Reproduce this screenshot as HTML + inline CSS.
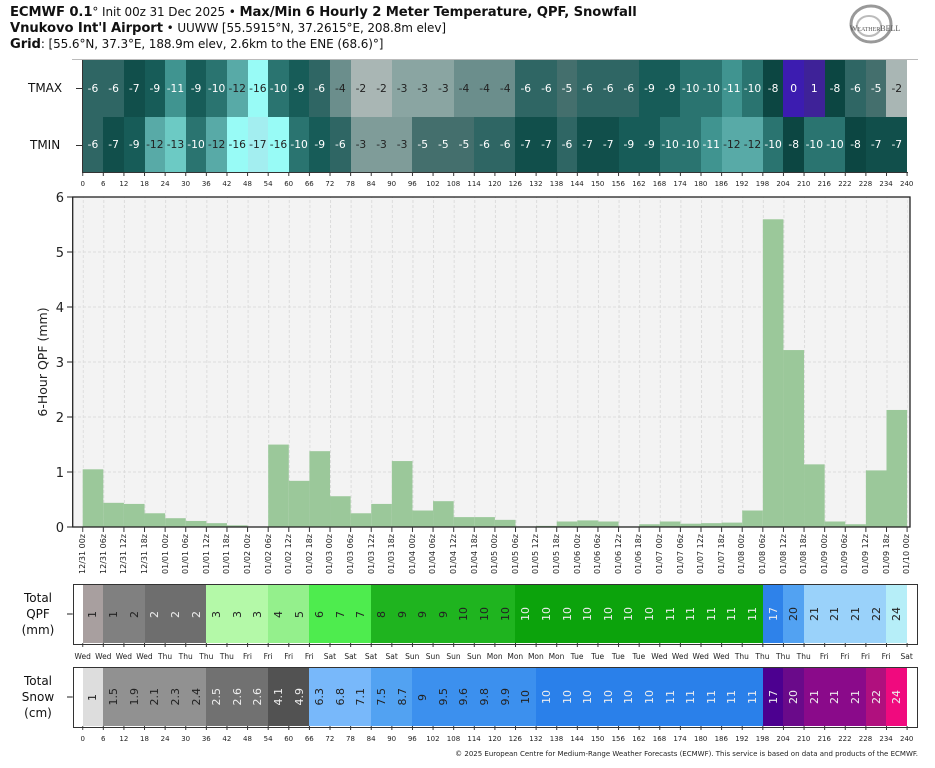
<!DOCTYPE html>
<html><head><meta charset="utf-8"><style>
*{margin:0;padding:0;box-sizing:border-box}
body{width:935px;height:768px;background:#fff;position:relative;overflow:hidden;font-family:"DejaVu Sans","Liberation Sans",sans-serif;color:#111}
.abs{position:absolute}
.hdr{left:10px;font-size:12px;white-space:nowrap;letter-spacing:-0.1px}
.hdr b{font-size:13.2px}
.row{position:absolute;left:82.7px;width:824.4px;display:grid;grid-template-columns:repeat(40,1fr)}
.row div{display:flex;align-items:center;justify-content:center;font-size:10.7px;color:#fff}
.m17{background:#a3eef0;color:#222!important}.m16{background:#98fbf6;color:#222!important}
.m13{background:#6ccac4;color:#222!important}.m12{background:#58aaa7;color:#222!important}
.m11{background:#409490}.m10{background:#2a7470}.m9{background:#175c58}.m8{background:#0c4642}
.m7{background:#114f4b}.m6{background:#2f6664}.m5{background:#446f6d}
.m4{background:#6b8e8c;color:#222!important}.m3{background:#8aa5a2;color:#222!important}.n3{background:#7f9c99;color:#222!important}
.m2{background:#a9b6b4;color:#222!important}.p0{background:#3c1cb0}.p1{background:#3e2298}
.tb div span{writing-mode:vertical-rl;transform:rotate(180deg);font-size:11px}
.d{color:#222!important}.l{color:#eee!important}
.ticks{position:absolute;left:72.4px;width:844.6px;display:grid;grid-template-columns:repeat(41,1fr);font-size:7px;text-align:center;color:#222}
.dates{position:absolute;left:72.4px;width:844.6px;top:534px;display:grid;grid-template-columns:repeat(41,1fr);font-size:8px;color:#222}
.dates div{display:flex;justify-content:center}
.dates span{writing-mode:vertical-rl;transform:rotate(180deg)}
.box{position:absolute;left:72.7px;width:845.3px;border:1.5px solid #333}
.lab{position:absolute;font-size:12px;text-align:center;line-height:16px;width:60px}
</style></head><body>
<div class="abs hdr" style="top:5px"><b>ECMWF 0.1</b>° Init 00z 31 Dec 2025 • <b>Max/Min 6 Hourly 2 Meter Temperature, QPF, Snowfall</b></div>
<div class="abs hdr" style="top:21px"><b>Vnukovo Int'l Airport</b> • UUWW [55.5915°N, 37.2615°E, 208.8m elev]</div>
<div class="abs hdr" style="top:37px"><b>Grid</b>: [55.6°N, 37.3°E, 188.9m elev, 2.6km to the ENE (68.6)°]</div>
<svg class="abs" style="left:835px;top:4px" width="80" height="44"><ellipse cx="36" cy="20" rx="20" ry="18" fill="none" stroke="#999" stroke-width="3"/><ellipse cx="34" cy="22" rx="12" ry="10" fill="none" stroke="#bbb" stroke-width="2"/><text x="40" y="27" font-size="8" text-anchor="middle" fill="#555" font-family="Liberation Serif,serif">W<tspan font-size="6">EATHER</tspan>BELL</text></svg>

<div class="abs" style="left:72px;top:59px;width:846px;height:1px;background:#bbb"></div>
<div class="abs" style="left:28px;top:81px;font-size:12px">TMAX</div>
<div class="abs" style="left:30px;top:138px;font-size:12px">TMIN</div>
<div class="abs" style="left:76px;top:88px;width:6px;height:1px;background:#333"></div>
<div class="abs" style="left:76px;top:145px;width:6px;height:1px;background:#333"></div>
<div class="abs" style="left:81.7px;top:60px;width:1px;height:113px;background:#333"></div>
<div class="row" style="top:60px;height:56.7px">
<div class="m6">-6</div><div class="m6">-6</div><div class="m7">-7</div><div class="m9">-9</div><div class="m11">-11</div><div class="m9">-9</div><div class="m10">-10</div><div class="m12">-12</div><div class="m16">-16</div><div class="m10">-10</div><div class="m9">-9</div><div class="m6">-6</div><div class="m4">-4</div><div class="m2">-2</div><div class="m2">-2</div><div class="m3">-3</div><div class="m3">-3</div><div class="m3">-3</div><div class="m4">-4</div><div class="m4">-4</div><div class="m4">-4</div><div class="m6">-6</div><div class="m6">-6</div><div class="m5">-5</div><div class="m6">-6</div><div class="m6">-6</div><div class="m6">-6</div><div class="m9">-9</div><div class="m9">-9</div><div class="m10">-10</div><div class="m10">-10</div><div class="m11">-11</div><div class="m10">-10</div><div class="m8">-8</div><div class="p0">0</div><div class="p1">1</div><div class="m8">-8</div><div class="m6">-6</div><div class="m5">-5</div><div class="m2">-2</div>
</div>
<div class="row" style="top:116.7px;height:55.6px">
<div class="m6">-6</div><div class="m7">-7</div><div class="m9">-9</div><div class="m12">-12</div><div class="m13">-13</div><div class="m10">-10</div><div class="m12">-12</div><div class="m16">-16</div><div class="m17">-17</div><div class="m16">-16</div><div class="m10">-10</div><div class="m9">-9</div><div class="m6">-6</div><div class="n3">-3</div><div class="n3">-3</div><div class="n3">-3</div><div class="m5">-5</div><div class="m5">-5</div><div class="m5">-5</div><div class="m6">-6</div><div class="m6">-6</div><div class="m7">-7</div><div class="m7">-7</div><div class="m6">-6</div><div class="m7">-7</div><div class="m7">-7</div><div class="m9">-9</div><div class="m9">-9</div><div class="m10">-10</div><div class="m10">-10</div><div class="m11">-11</div><div class="m12">-12</div><div class="m12">-12</div><div class="m10">-10</div><div class="m8">-8</div><div class="m10">-10</div><div class="m10">-10</div><div class="m8">-8</div><div class="m7">-7</div><div class="m7">-7</div>
</div>
<div class="abs" style="left:82px;top:172px;width:826px;height:1px;background:#333"></div>
<div class="ticks" style="top:180px"><div>0</div><div>6</div><div>12</div><div>18</div><div>24</div><div>30</div><div>36</div><div>42</div><div>48</div><div>54</div><div>60</div><div>66</div><div>72</div><div>78</div><div>84</div><div>90</div><div>96</div><div>102</div><div>108</div><div>114</div><div>120</div><div>126</div><div>132</div><div>138</div><div>144</div><div>150</div><div>156</div><div>162</div><div>168</div><div>174</div><div>180</div><div>186</div><div>192</div><div>198</div><div>204</div><div>210</div><div>216</div><div>222</div><div>228</div><div>234</div><div>240</div></div>

<svg class="abs" style="left:0;top:0" width="935" height="768">
<defs>
<pattern id="vg" patternUnits="userSpaceOnUse" x="82.7" y="0" width="20.61" height="5"><line x1="0.5" y1="0" x2="0.5" y2="3" stroke="#dcdcdc" stroke-width="1"/></pattern>
<pattern id="tk" patternUnits="userSpaceOnUse" x="82.2" y="0" width="20.61" height="10"><rect x="0" y="0" width="1" height="10" fill="#333"/></pattern>
</defs>
<rect x="72.7" y="197" width="837.3" height="330" fill="#f3f3f3"/>
<rect x="82.7" y="197" width="825" height="330" fill="url(#vg)"/>
<g stroke="#dcdcdc" stroke-dasharray="3,2"><line x1="73" x2="910" y1="252" y2="252"/><line x1="73" x2="910" y1="307" y2="307"/><line x1="73" x2="910" y1="362" y2="362"/><line x1="73" x2="910" y1="417" y2="417"/><line x1="73" x2="910" y1="472" y2="472"/></g>
<g transform="translate(82.7 527) scale(3.435 -54.95)" fill="#9bc89a">
<rect x="0" width="6" height="1.05"/><rect x="6" width="6" height="0.44"/><rect x="12" width="6" height="0.42"/><rect x="18" width="6" height="0.25"/><rect x="24" width="6" height="0.16"/><rect x="30" width="6" height="0.11"/><rect x="36" width="6" height="0.07"/><rect x="42" width="6" height="0.03"/><rect x="54" width="6" height="1.5"/><rect x="60" width="6" height="0.84"/><rect x="66" width="6" height="1.38"/><rect x="72" width="6" height="0.56"/><rect x="78" width="6" height="0.25"/><rect x="84" width="6" height="0.42"/><rect x="90" width="6" height="1.2"/><rect x="96" width="6" height="0.3"/><rect x="102" width="6" height="0.47"/><rect x="108" width="6" height="0.18"/><rect x="114" width="6" height="0.18"/><rect x="120" width="6" height="0.13"/><rect x="126" width="6" height="0.01"/><rect x="132" width="6" height="0.02"/><rect x="138" width="6" height="0.1"/><rect x="144" width="6" height="0.12"/><rect x="150" width="6" height="0.1"/><rect x="156" width="6" height="0.01"/><rect x="162" width="6" height="0.05"/><rect x="168" width="6" height="0.1"/><rect x="174" width="6" height="0.06"/><rect x="180" width="6" height="0.07"/><rect x="186" width="6" height="0.08"/><rect x="192" width="6" height="0.3"/><rect x="198" width="6" height="5.6"/><rect x="204" width="6" height="3.22"/><rect x="210" width="6" height="1.14"/><rect x="216" width="6" height="0.1"/><rect x="222" width="6" height="0.05"/><rect x="228" width="6" height="1.03"/><rect x="234" width="6" height="2.13"/>
</g>
<rect x="72.7" y="197" width="837.3" height="330" fill="none" stroke="#222" stroke-width="1.3"/>
<rect x="82.2" y="527" width="826" height="5" fill="url(#tk)"/>
<rect x="82.2" y="172" width="826" height="4" fill="url(#tk)"/>
<rect x="82.2" y="643" width="826" height="4" fill="url(#tk)"/>
<rect x="82.2" y="726" width="826" height="4" fill="url(#tk)"/>
<g stroke="#222"><line x1="67" x2="72.7" y1="197" y2="197"/><line x1="67" x2="72.7" y1="252" y2="252"/><line x1="67" x2="72.7" y1="307" y2="307"/><line x1="67" x2="72.7" y1="362" y2="362"/><line x1="67" x2="72.7" y1="417" y2="417"/><line x1="67" x2="72.7" y1="472" y2="472"/><line x1="67" x2="72.7" y1="527" y2="527"/><line x1="67" x2="72.7" y1="614" y2="614"/><line x1="67" x2="72.7" y1="697" y2="697"/></g>
<g font-size="13" text-anchor="end" fill="#222" font-family="DejaVu Sans,sans-serif"><text x="64" y="202">6</text><text x="64" y="257">5</text><text x="64" y="312">4</text><text x="64" y="367">3</text><text x="64" y="422">2</text><text x="64" y="477">1</text><text x="64" y="532">0</text></g>
<text transform="translate(47 362) rotate(-90)" font-size="12.5" text-anchor="middle" fill="#222" font-family="DejaVu Sans,sans-serif">6-Hour QPF (mm)</text>
</svg>

<div class="dates"><div><span>12/31 00z</span></div><div><span>12/31 06z</span></div><div><span>12/31 12z</span></div><div><span>12/31 18z</span></div><div><span>01/01 00z</span></div><div><span>01/01 06z</span></div><div><span>01/01 12z</span></div><div><span>01/01 18z</span></div><div><span>01/02 00z</span></div><div><span>01/02 06z</span></div><div><span>01/02 12z</span></div><div><span>01/02 18z</span></div><div><span>01/03 00z</span></div><div><span>01/03 06z</span></div><div><span>01/03 12z</span></div><div><span>01/03 18z</span></div><div><span>01/04 00z</span></div><div><span>01/04 06z</span></div><div><span>01/04 12z</span></div><div><span>01/04 18z</span></div><div><span>01/05 00z</span></div><div><span>01/05 06z</span></div><div><span>01/05 12z</span></div><div><span>01/05 18z</span></div><div><span>01/06 00z</span></div><div><span>01/06 06z</span></div><div><span>01/06 12z</span></div><div><span>01/06 18z</span></div><div><span>01/07 00z</span></div><div><span>01/07 06z</span></div><div><span>01/07 12z</span></div><div><span>01/07 18z</span></div><div><span>01/08 00z</span></div><div><span>01/08 06z</span></div><div><span>01/08 12z</span></div><div><span>01/08 18z</span></div><div><span>01/09 00z</span></div><div><span>01/09 06z</span></div><div><span>01/09 12z</span></div><div><span>01/09 18z</span></div><div><span>01/10 00z</span></div></div>

<div class="lab" style="left:8px;top:590px">Total<br>QPF<br>(mm)</div>
<div class="box" style="top:583.5px;height:61px"></div>
<div class="row tb" style="top:585px;height:58px">
<div style="background:#a89f9f" class="d"><span>1</span></div><div style="background:#808080" class="d"><span>1</span></div><div style="background:#808080" class="d"><span>2</span></div><div style="background:#6e6e6e" class="l"><span>2</span></div><div style="background:#6e6e6e" class="l"><span>2</span></div><div style="background:#6e6e6e" class="l"><span>2</span></div><div style="background:#b4f9a8" class="d"><span>3</span></div><div style="background:#b4f9a8" class="d"><span>3</span></div><div style="background:#b4f9a8" class="d"><span>3</span></div><div style="background:#94f08c" class="d"><span>4</span></div><div style="background:#94f08c" class="d"><span>5</span></div><div style="background:#4eec4e" class="d"><span>6</span></div><div style="background:#4eec4e" class="d"><span>7</span></div><div style="background:#4eec4e" class="d"><span>7</span></div><div style="background:#1fb41f" class="d"><span>8</span></div><div style="background:#1fb41f" class="d"><span>9</span></div><div style="background:#1fb41f" class="d"><span>9</span></div><div style="background:#1fb41f" class="d"><span>9</span></div><div style="background:#1fb41f" class="d"><span>10</span></div><div style="background:#1fb41f" class="d"><span>10</span></div><div style="background:#1fb41f" class="d"><span>10</span></div><div style="background:#0ca30c" class="l"><span>10</span></div><div style="background:#0ca30c" class="l"><span>10</span></div><div style="background:#0ca30c" class="l"><span>10</span></div><div style="background:#0ca30c" class="l"><span>10</span></div><div style="background:#0ca30c" class="l"><span>10</span></div><div style="background:#0ca30c" class="l"><span>10</span></div><div style="background:#0ca30c" class="l"><span>10</span></div><div style="background:#0ca30c" class="l"><span>11</span></div><div style="background:#0ca30c" class="l"><span>11</span></div><div style="background:#0ca30c" class="l"><span>11</span></div><div style="background:#0ca30c" class="l"><span>11</span></div><div style="background:#0ca30c" class="l"><span>11</span></div><div style="background:#2e82ea" class="l"><span>17</span></div><div style="background:#52a2f2" class="d"><span>20</span></div><div style="background:#9ad2fa" class="d"><span>21</span></div><div style="background:#9ad2fa" class="d"><span>21</span></div><div style="background:#9ad2fa" class="d"><span>21</span></div><div style="background:#9ad2fa" class="d"><span>22</span></div><div style="background:#b6eef8" class="d"><span>24</span></div>
</div>
<div class="ticks" style="top:652px;font-size:7.5px"><div>Wed</div><div>Wed</div><div>Wed</div><div>Wed</div><div>Thu</div><div>Thu</div><div>Thu</div><div>Thu</div><div>Fri</div><div>Fri</div><div>Fri</div><div>Fri</div><div>Sat</div><div>Sat</div><div>Sat</div><div>Sat</div><div>Sun</div><div>Sun</div><div>Sun</div><div>Sun</div><div>Mon</div><div>Mon</div><div>Mon</div><div>Mon</div><div>Tue</div><div>Tue</div><div>Tue</div><div>Tue</div><div>Wed</div><div>Wed</div><div>Wed</div><div>Wed</div><div>Thu</div><div>Thu</div><div>Thu</div><div>Thu</div><div>Fri</div><div>Fri</div><div>Fri</div><div>Fri</div><div>Sat</div></div>

<div class="lab" style="left:8px;top:673px">Total<br>Snow<br>(cm)</div>
<div class="box" style="top:666.5px;height:61px"></div>
<div class="row tb" style="top:668px;height:58px">
<div style="background:#dddddd" class="d"><span>1</span></div><div style="background:#919191" class="d"><span>1.5</span></div><div style="background:#919191" class="d"><span>1.9</span></div><div style="background:#919191" class="d"><span>2.1</span></div><div style="background:#919191" class="d"><span>2.3</span></div><div style="background:#919191" class="d"><span>2.4</span></div><div style="background:#717171" class="l"><span>2.5</span></div><div style="background:#717171" class="l"><span>2.6</span></div><div style="background:#717171" class="l"><span>2.6</span></div><div style="background:#525252" class="l"><span>4.1</span></div><div style="background:#525252" class="l"><span>4.9</span></div><div style="background:#78b8fa" class="d"><span>6.3</span></div><div style="background:#78b8fa" class="d"><span>6.8</span></div><div style="background:#78b8fa" class="d"><span>7.1</span></div><div style="background:#52a2f2" class="d"><span>7.5</span></div><div style="background:#52a2f2" class="d"><span>8.7</span></div><div style="background:#3c90ee" class="d"><span>9</span></div><div style="background:#3c90ee" class="d"><span>9.5</span></div><div style="background:#3c90ee" class="d"><span>9.6</span></div><div style="background:#3c90ee" class="d"><span>9.8</span></div><div style="background:#3c90ee" class="d"><span>9.9</span></div><div style="background:#3c90ee" class="d"><span>10</span></div><div style="background:#2a80ea" class="l"><span>10</span></div><div style="background:#2a80ea" class="l"><span>10</span></div><div style="background:#2a80ea" class="l"><span>10</span></div><div style="background:#2a80ea" class="l"><span>10</span></div><div style="background:#2a80ea" class="l"><span>10</span></div><div style="background:#2a80ea" class="l"><span>10</span></div><div style="background:#2a80ea" class="l"><span>11</span></div><div style="background:#2a80ea" class="l"><span>11</span></div><div style="background:#2a80ea" class="l"><span>11</span></div><div style="background:#2a80ea" class="l"><span>11</span></div><div style="background:#2a80ea" class="l"><span>11</span></div><div style="background:#4c0090" class="l"><span>17</span></div><div style="background:#6a0a8a" class="l"><span>20</span></div><div style="background:#8a0a8a" class="l"><span>21</span></div><div style="background:#8a0a8a" class="l"><span>21</span></div><div style="background:#8a0a8a" class="l"><span>21</span></div><div style="background:#b0107e" class="l"><span>22</span></div><div style="background:#f00a7e" class="l"><span>24</span></div>
</div>
<div class="ticks" style="top:735px"><div>0</div><div>6</div><div>12</div><div>18</div><div>24</div><div>30</div><div>36</div><div>42</div><div>48</div><div>54</div><div>60</div><div>66</div><div>72</div><div>78</div><div>84</div><div>90</div><div>96</div><div>102</div><div>108</div><div>114</div><div>120</div><div>126</div><div>132</div><div>138</div><div>144</div><div>150</div><div>156</div><div>162</div><div>168</div><div>174</div><div>180</div><div>186</div><div>192</div><div>198</div><div>204</div><div>210</div><div>216</div><div>222</div><div>228</div><div>234</div><div>240</div></div>
<div class="abs" style="right:17px;top:750px;font-size:7px;color:#222;white-space:nowrap">© 2025 European Centre for Medium-Range Weather Forecasts (ECMWF). This service is based on data and products of the ECMWF.</div>
</body></html>
